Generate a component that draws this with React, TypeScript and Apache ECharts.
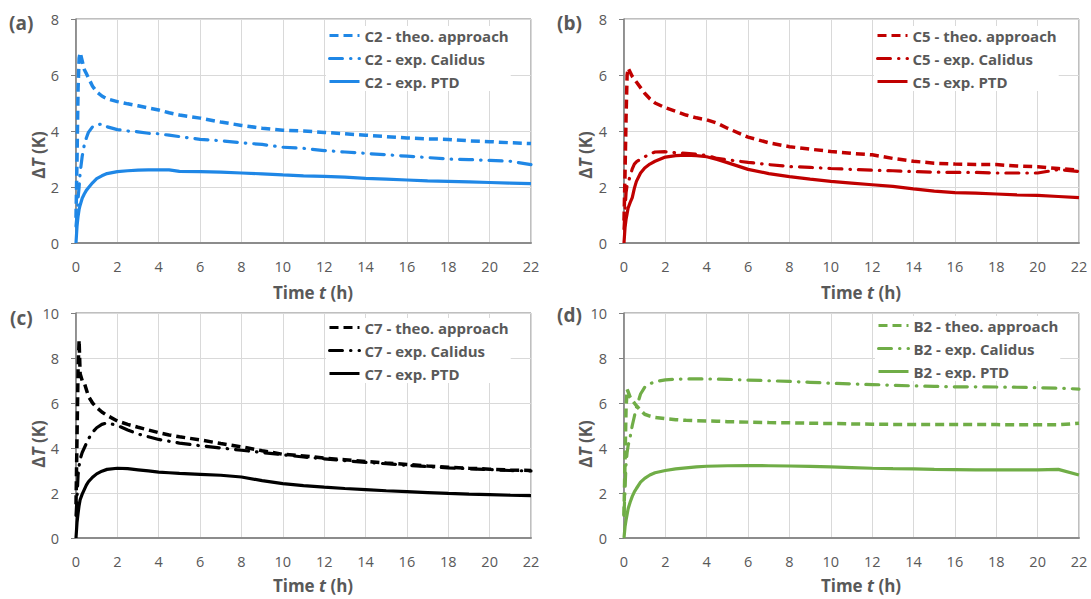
import React, { useEffect, useRef } from "react";
import * as echarts from "echarts";

const TIMES = [0, 0.05, 0.1, 0.15, 0.2, 0.3, 0.4, 0.5, 0.6, 0.8, 1, 1.25, 1.5, 2, 2.5, 3, 3.5, 4, 4.5, 5, 6, 7, 8, 9, 10, 11, 12, 13, 14, 15, 16, 17, 18, 19, 20, 21, 22];

const C2_THEO = [0.9, 3.0, 5.5, 6.6, 6.8, 6.5, 6.2, 6.05, 5.9, 5.6, 5.4, 5.25, 5.15, 5.05, 4.97, 4.9, 4.82, 4.75, 4.65, 4.57, 4.46, 4.32, 4.2, 4.1, 4.03, 4.0, 3.95, 3.9, 3.85, 3.8, 3.75, 3.72, 3.7, 3.65, 3.62, 3.58, 3.55];
const C2_CAL = [0.6, 1.0, 1.6, 2.0, 2.5, 3.1, 3.5, 3.75, 3.95, 4.15, 4.22, 4.25, 4.15, 4.05, 4.0, 3.97, 3.92, 3.9, 3.85, 3.8, 3.7, 3.65, 3.58, 3.52, 3.42, 3.38, 3.3, 3.25, 3.2, 3.15, 3.1, 3.05, 3.0, 2.98, 2.95, 2.92, 2.8];
const C2_PTD = [0, 0.6, 0.95, 1.2, 1.35, 1.6, 1.75, 1.88, 1.97, 2.15, 2.3, 2.4, 2.48, 2.55, 2.58, 2.6, 2.61, 2.61, 2.61, 2.56, 2.55, 2.53, 2.5, 2.47, 2.43, 2.4, 2.38, 2.35, 2.31, 2.28, 2.25, 2.22, 2.2, 2.18, 2.16, 2.14, 2.12];

const C5_THEO = [0.8, 2.5, 4.5, 6.0, 6.25, 6.1, 5.95, 5.85, 5.75, 5.55, 5.35, 5.15, 5.0, 4.83, 4.7, 4.57, 4.47, 4.4, 4.28, 4.1, 3.78, 3.58, 3.44, 3.35, 3.27, 3.2, 3.15, 3.02, 2.92, 2.85, 2.82, 2.8, 2.8, 2.75, 2.72, 2.66, 2.6];
const C5_CAL = [0.5, 1.2, 1.8, 2.05, 2.15, 2.4, 2.65, 2.82, 2.9, 3.0, 3.08, 3.18, 3.25, 3.26, 3.22, 3.2, 3.17, 3.13, 3.02, 2.97, 2.88, 2.8, 2.73, 2.7, 2.66, 2.63, 2.6, 2.58, 2.55, 2.53, 2.52, 2.52, 2.5, 2.5, 2.5, 2.62, 2.55];
const C5_PTD = [0, 0.55, 0.85, 1.05, 1.25, 1.45, 1.62, 1.95, 2.2, 2.5, 2.68, 2.82, 2.92, 3.07, 3.12, 3.14, 3.12, 3.08, 2.98, 2.87, 2.63, 2.48, 2.37, 2.28, 2.2, 2.14, 2.08, 2.02, 1.93, 1.85, 1.8, 1.78, 1.75, 1.72, 1.7, 1.66, 1.62];

const C7_THEO = [1.5, 4.5, 7.5, 8.8, 7.3, 7.0, 6.9, 6.6, 6.3, 6.0, 5.8, 5.6, 5.45, 5.2, 5.05, 4.92, 4.8, 4.68, 4.58, 4.5, 4.36, 4.2, 4.05, 3.88, 3.72, 3.65, 3.55, 3.48, 3.4, 3.33, 3.27, 3.2, 3.15, 3.1, 3.06, 3.02, 3.0];
const C7_CAL = [1.0, 1.8, 2.8, 3.2, 3.5, 3.8, 4.0, 4.2, 4.4, 4.7, 4.9, 5.05, 5.12, 5.0, 4.8, 4.62, 4.5, 4.38, 4.3, 4.22, 4.1, 4.0, 3.9, 3.8, 3.7, 3.6, 3.52, 3.44, 3.36, 3.3, 3.23, 3.18, 3.12, 3.08, 3.04, 3.0, 2.98];
const C7_PTD = [0, 0.7, 1.1, 1.45, 1.7, 1.95, 2.15, 2.35, 2.5, 2.7, 2.85, 2.97, 3.05, 3.1, 3.08, 3.03, 2.98, 2.93, 2.9, 2.87, 2.83, 2.79, 2.71, 2.55, 2.42, 2.33, 2.26, 2.2, 2.15, 2.1, 2.06, 2.02, 1.98, 1.95, 1.93, 1.9, 1.88];

const B2_THEO = [1.0, 3.5, 5.8, 6.6, 6.5, 6.25, 6.1, 6.0, 5.88, 5.68, 5.5, 5.42, 5.36, 5.3, 5.26, 5.23, 5.21, 5.2, 5.19, 5.17, 5.15, 5.13, 5.12, 5.1, 5.09, 5.07, 5.06, 5.05, 5.05, 5.05, 5.05, 5.04, 5.04, 5.03, 5.03, 5.03, 5.1];
const B2_CAL = [1.0, 2.2, 3.3, 3.8, 4.1, 4.5, 5.0, 5.4, 5.8, 6.4, 6.7, 6.85, 6.95, 7.03, 7.06, 7.07, 7.07, 7.07, 7.06, 7.05, 7.02, 6.99, 6.96, 6.92, 6.88, 6.85, 6.82, 6.79, 6.76, 6.74, 6.72, 6.72, 6.71, 6.7, 6.68, 6.66, 6.62];
const B2_PTD = [0, 0.5, 0.8, 1.05, 1.3, 1.6, 1.85, 2.05, 2.2, 2.48, 2.65, 2.8, 2.9, 3.0, 3.07, 3.12, 3.16, 3.19, 3.2, 3.21, 3.22, 3.21, 3.2, 3.18, 3.16, 3.13, 3.1, 3.08, 3.07, 3.05, 3.04, 3.03, 3.03, 3.03, 3.03, 3.05, 2.8];

const PANELS = [
  { tag: "(a)", id: "C2", color: "#1f87e6", ymax: 8, theo: C2_THEO, cal: C2_CAL, ptd: C2_PTD },
  { tag: "(b)", id: "C5", color: "#c00000", ymax: 8, theo: C5_THEO, cal: C5_CAL, ptd: C5_PTD },
  { tag: "(c)", id: "C7", color: "#000000", ymax: 10, theo: C7_THEO, cal: C7_CAL, ptd: C7_PTD },
  { tag: "(d)", id: "B2", color: "#70ad47", ymax: 10, theo: B2_THEO, cal: B2_CAL, ptd: B2_PTD },
];

const FONT = "'Open Sans', 'Liberation Sans', sans-serif";
const GRAY = "#595959";

// layout (pixels)
const GRIDS = [
  { left: 76, top: 19, width: 455, height: 224 },
  { left: 624, top: 19, width: 455, height: 224 },
  { left: 76, top: 313, width: 455, height: 225 },
  { left: 624, top: 313, width: 455, height: 225 },
];
const LEGEND_POS = [
  { left: 326, top: 26 },
  { left: 874, top: 26 },
  { left: 326, top: 318 },
  { left: 875, top: 316 },
];
const TAG_POS = [
  { x: 9, y: 23 },
  { x: 557, y: 23 },
  { x: 10, y: 318 },
  { x: 557, y: 315 },
];
const YTITLE_POS = [
  { x: 38, y: 155 },
  { x: 585, y: 155 },
  { x: 38, y: 444 },
  { x: 585, y: 444 },
];
const XTITLE_POS = [
  { x: 313, y: 292 },
  { x: 861, y: 292 },
  { x: 313, y: 585 },
  { x: 861, y: 585 },
];

function buildOption() {
  const grid: any[] = [];
  const xAxis: any[] = [];
  const yAxis: any[] = [];
  const series: any[] = [];
  const legend: any[] = [];
  const graphic: any[] = [];

  PANELS.forEach((p, i) => {
    grid.push({ ...GRIDS[i], show: true, borderColor: "#7f7f7f", borderWidth: 1, backgroundColor: "transparent" });
    xAxis.push({
      type: "value",
      gridIndex: i,
      min: 0,
      max: 22,
      interval: 2,
      axisLine: { show: true, onZero: false, lineStyle: { color: "#8c8c8c", width: 2 } },
      axisTick: { show: false },
      splitLine: { show: true, lineStyle: { color: "#d9d9d9", width: 1 } },
      axisLabel: { color: GRAY, fontSize: 14.5, fontFamily: FONT, margin: 16 },
    });
    yAxis.push({
      type: "value",
      gridIndex: i,
      min: 0,
      max: p.ymax,
      interval: 2,
      axisLine: { show: true, lineStyle: { color: "#7f7f7f", width: 1.5 } },
      axisTick: { show: true, inside: false, length: 5, lineStyle: { color: "#7f7f7f" } },
      splitLine: { show: true, lineStyle: { color: "#d9d9d9", width: 1 } },
      axisLabel: { color: GRAY, fontSize: 14.5, fontFamily: FONT, margin: 17 },
    });
    const names = [
      `${p.id} - theo. approach`,
      `${p.id} - exp. Calidus`,
      `${p.id} - exp. PTD`,
    ];
    const vals = [p.theo, p.cal, p.ptd];
    const styles: any[] = [
      { type: [9, 5], width: 3.5, cap: "butt" },
      { type: [13, 8, 0.5, 8], width: 3.2, cap: "round" },
      { type: "solid", width: 3.2 },
    ];
    names.forEach((n, k) => {
      series.push({
        name: n,
        type: "line",
        xAxisIndex: i,
        yAxisIndex: i,
        symbol: "none",
        showSymbol: false,
        smooth: false,
        z: 3 - k,
        color: p.color,
        itemStyle: { color: p.color, opacity: 0 },
        lineStyle: { color: p.color, ...styles[k] },
        data: TIMES.map((t, j) => [t, vals[k][j]]),
      });
    });
    legend.push({
      data: names,
      orient: "vertical",
      left: LEGEND_POS[i].left,
      top: LEGEND_POS[i].top,
      itemWidth: 30,
      itemHeight: 14,
      itemGap: 8,
      padding: 2,
      backgroundColor: "#ffffff",
      selectedMode: false,
      itemStyle: { opacity: 0, borderWidth: 0 },
      lineStyle: { width: 3 },
      textStyle: { color: GRAY, fontSize: 15, fontWeight: "bold", fontFamily: FONT },
    });
    graphic.push({
      type: "text",
      x: TAG_POS[i].x,
      y: TAG_POS[i].y,
      style: { text: p.tag, fill: GRAY, font: `bold 19px ${FONT}`, verticalAlign: "middle", align: "left" },
    });
    graphic.push({
      type: "text",
      x: YTITLE_POS[i].x,
      y: YTITLE_POS[i].y,
      rotation: Math.PI / 2,
      style: {
        text: "{a|Δ}{b|T}{a| (K)}",
        align: "center",
        verticalAlign: "middle",
        rich: {
          a: { fill: GRAY, fontSize: 17, fontWeight: "bold", fontFamily: FONT },
          b: { fill: GRAY, fontSize: 17, fontWeight: "bold", fontStyle: "italic", fontFamily: FONT },
        },
      },
    });
    graphic.push({
      type: "text",
      x: XTITLE_POS[i].x,
      y: XTITLE_POS[i].y,
      style: {
        text: "{a|Time }{b|t}{a| (h)}",
        align: "center",
        verticalAlign: "middle",
        rich: {
          a: { fill: GRAY, fontSize: 17, fontWeight: "bold", fontFamily: FONT },
          b: { fill: GRAY, fontSize: 17, fontWeight: "bold", fontStyle: "italic", fontFamily: FONT },
        },
      },
    });
  });

  return {
    animation: false,
    backgroundColor: "#ffffff",
    grid,
    xAxis,
    yAxis,
    series,
    legend,
    graphic,
  };
}

export default function App() {
  const ref = useRef<HTMLDivElement>(null);
  useEffect(() => {
    if (!ref.current) return;
    const chart = echarts.init(ref.current, undefined, { renderer: "svg" });
    chart.setOption(buildOption() as any);
    return () => chart.dispose();
  }, []);
  return (
    <div
      ref={ref}
      style={{ position: "fixed", left: 0, top: 0, width: 1091, height: 599, background: "#fff" }}
    />
  );
}
